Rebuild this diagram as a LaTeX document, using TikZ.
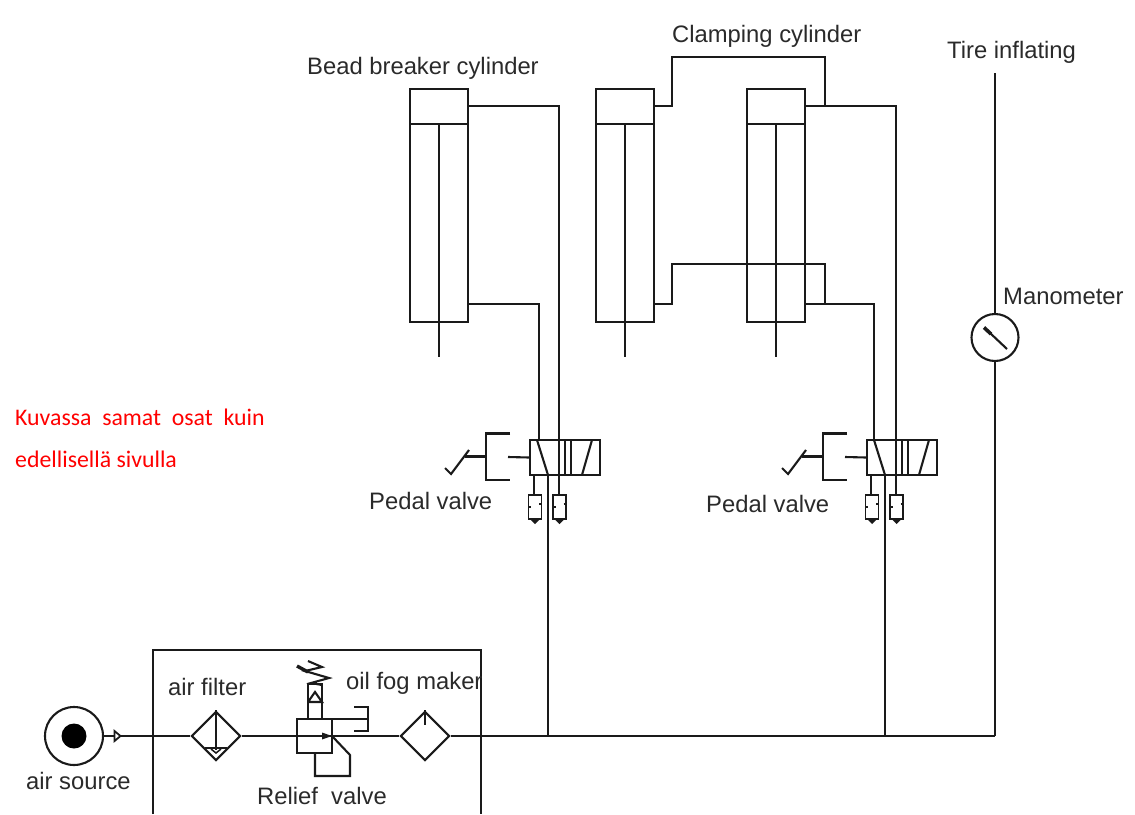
\documentclass[tikz,border=0pt]{standalone}
\usepackage{fontspec}
\setmainfont{Liberation Sans}
\newfontfamily\redfont{Carlito}
\definecolor{ink}{HTML}{1A1A1A}
\definecolor{lab}{HTML}{2A2A2A}
\usetikzlibrary{shapes.geometric}
\tikzset{
  pipe/.style={draw=ink,line width=2.1pt,line join=miter},
  fine/.style={draw=ink,line width=1.5pt},
  cylbox/.style={draw=ink,line width=2.1pt,rectangle,minimum width=58pt,minimum height=233pt,inner sep=0pt},
  capbox/.style={draw=ink,line width=2.1pt,rectangle,minimum width=58pt,minimum height=35pt,inner sep=0pt},
  valvebox/.style={draw=ink,line width=2.1pt,rectangle,minimum width=70pt,minimum height=35pt,inner sep=0pt},
  mufflerbox/.style={draw=ink,line width=1.8pt,rectangle,minimum width=13pt,minimum height=24pt,inner sep=0pt},
  symbolbox/.style={draw=ink,line width=2.1pt,rectangle,inner sep=0pt},
  fdiamond/.style={draw=ink,line width=2.1pt,diamond,aspect=1,minimum width=49pt,minimum height=49pt,inner sep=0pt},
  lbl/.style={text=lab,font=\fontsize{23.8}{26}\selectfont,inner sep=0pt,anchor=base west},
  redlbl/.style={text=red,font=\redfont\fontsize{23.8}{26}\selectfont,inner sep=0pt,anchor=base west},
}
\newcommand{\pedalvalve}[3]{% #1 name prefix, #2 x offset, #3 supply x
\begin{scope}[shift={(#2,0)}]
  \node[valvebox] (#1v) at (565,457.5) {};
  \draw[pipe] (565,440) -- (565,475) (571,440) -- (571,475) (559,440) -- (559,475);
  \draw[pipe] (537,440) -- (548,475);
  \draw[pipe] (592,440) -- (582,475);
  \node[mufflerbox] (#1ma) at (535,507) {};
  \node[mufflerbox] (#1mb) at (559.5,507) {};
  \fill[ink] (530,519) -- (540,519) -- (535,524) -- cycle;
  \fill[ink] (554.5,519) -- (564.5,519) -- (559.5,524) -- cycle;
  \draw[fine] (528.5,507) -- (531,507) (539,504) -- (541.5,504) (553,507) -- (555.5,507) (563.5,504) -- (566,504);
  \draw[pipe] (534,475) -- (#1ma.north -| 534,0) (559,475) -- (#1mb.north -| 559,0);
  \draw[pipe] (510,433.5) -- (486,433.5) -- (486,480) -- (510,480);
  \draw[pipe] (508,457) -- (#1v.west);
  \draw[pipe,line width=3.4pt] (486,456.5) -- (465,456.5);
  \draw[pipe] (445,468) -- (451,474) -- (469,450);
\end{scope}}
\begin{document}
\begin{tikzpicture}[x=1pt,y=-1pt]
\useasboundingbox (0,0) rectangle (1135,814);
% cylinders
\foreach \n/\cx in {a/439,b/625,c/776}{
  \node[cylbox] (cyl\n) at (\cx,205.5) {};
  \node[capbox] (cap\n) at (\cx,106.5) {};
  \coordinate (rod\n) at (\cx,357);
  \draw[pipe] (cap\n.south) -- (rod\n);
}
\coordinate (ah) at (559,440);
\coordinate (al) at (539,440);
\coordinate (bh) at (896,440);
\coordinate (bl) at (874,440);
\coordinate (main) at (995,736);
\coordinate (j1) at (548,736);
\coordinate (j2) at (885,736);
% pipes
\draw[pipe] (468,106) -| (ah);
\draw[pipe] (468,304) -| (al);
\draw[pipe] (654,106) -- (672,106) -- (672,57) -- (825,57) -- (825,106);
\draw[pipe] (805,106) -| (bh);
\draw[pipe] (654,304) -- (672,304) -- (672,264) -- (825,264) -- (825,304);
\draw[pipe] (805,304) -| (bl);
\draw[pipe] (j1) -- (548,475);
\draw[pipe] (j2) -- (885,475);
% valves
\pedalvalve{l}{0}{548}
\pedalvalve{r}{337}{885}
% manometer
\node[draw=ink,line width=2.1pt,circle,minimum size=47pt,inner sep=0pt] (mano) at (995,337.5) {};
\coordinate (tire) at (995,73);
\draw[pipe] (mano.north) -- (tire);
\draw[pipe] (mano.south) -- (main);
\draw[pipe] (1007,349) -- (990,333);
\draw[pipe,line width=3.6pt] (991,334) -- (984,327.5);
% FRL
\draw[pipe] (153,814) -- (153,650) -- (481,650) -- (481,814);
\node[draw=ink,line width=2.1pt,circle,minimum size=58pt,inner sep=0pt] (src) at (74,736) {};
\node[fill=black,circle,minimum size=25pt,inner sep=0pt] (srcdot) at (74,736) {};
\draw[pipe] (src.east) -- (114,736);
\draw[draw=ink,line width=1.8pt] (114.5,731) -- (120.5,736) -- (114.5,741) -- cycle;
\node[fdiamond] (filt) at (216,736) {};
\node[fdiamond] (oil) at (425,736) {};
\node[symbolbox,minimum width=35pt,minimum height=34pt] (relief) at (314.5,736) {};
\node[symbolbox,minimum width=14pt,minimum height=35pt] (spool) at (315,701.5) {};
\draw[pipe] (120.5,736) -- (filt.west);
\draw[pipe] (filt.east) -- (relief.west);
\draw[pipe] (relief.west) -- (323,736);
\draw[pipe] (323,736) -- (oil.west);
\draw[pipe] (oil.east) -- (main);
\draw[pipe] (filt.north) -- (216,750);
\draw[fine] (205,748) -- (227,748);
\draw[fine] (211,749) -- (216,753) -- (221,749);
\draw[pipe] (oil.north) -- (425,725);
\draw[pipe] (308,702) -- (315,692) -- (322,702) -- (308,702);
\draw[pipe] (322,685) -- (311,683) -- (329,678) -- (305,671) -- (322,667) -- (308,661);
\draw[pipe,line width=3.4pt] (297,666) -- (308,672);
\draw[pipe] (332,719) -- (368,719);
\draw[pipe] (354,707) -- (368,707) -- (368,731) -- (354,731);
\draw[pipe] (332,736) -- (350,755) -- (350,776) -- (315,776) -- (315,753);
\fill[ink] (322,732.5) -- (332,736) -- (322,739.5) -- cycle;
% labels
\node[lbl] (t1) at (307,74) {Bead breaker cylinder};
\node[lbl] (t2) at (672,42) {Clamping cylinder};
\node[lbl] (t3) at (947,58.5) {Tire inflating};
\node[lbl] (t4) at (1003,304) {Manometer};
\node[lbl] (t5) at (369,509) {Pedal valve};
\node[lbl] (t6) at (706,512) {Pedal valve};
\node[lbl] (t7) at (168,695) {air filter};
\node[lbl] (t8) at (346,689) {oil fog maker};
\node[lbl] (t9) at (26,789) {air source};
\node[lbl] (t10) at (257,804) {Relief\ \ valve};
\node[redlbl] (r1) at (15,425) {Kuvassa\ \ samat\ \ osat\ \ kuin};
\node[redlbl] (r2) at (15,467) {edellisellä sivulla};
\end{tikzpicture}
\end{document}
